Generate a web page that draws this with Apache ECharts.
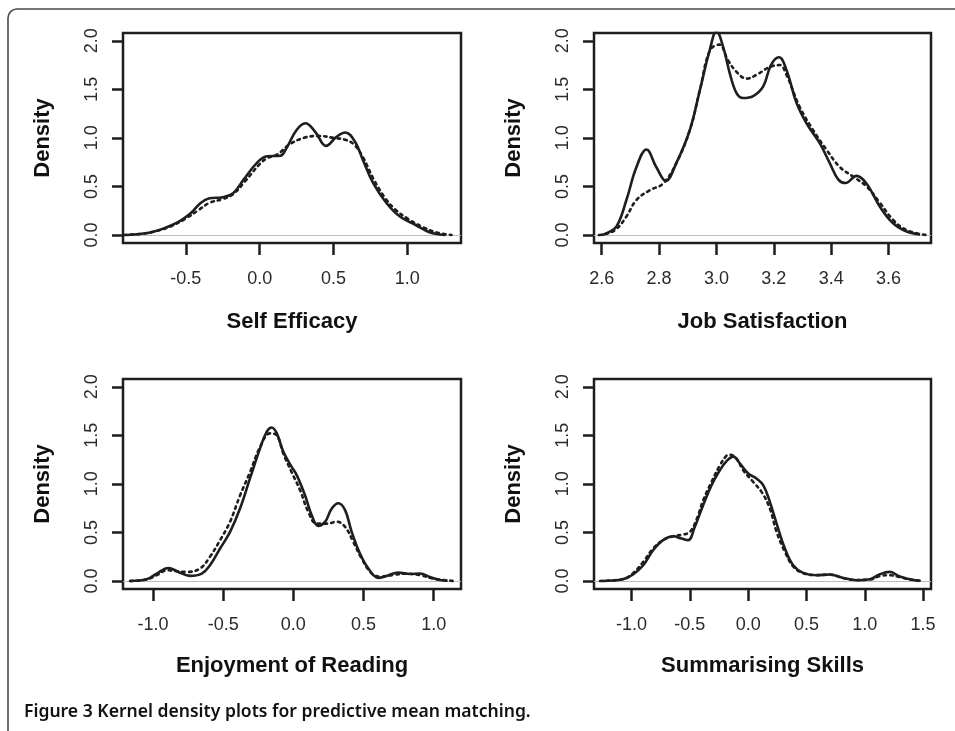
<!DOCTYPE html>
<html>
<head>
<meta charset="utf-8">
<script src="https://cdn.jsdelivr.net/npm/echarts@6/dist/echarts.min.js"></script>
<style>
  html, body { margin: 0; padding: 0; background: #fff; }
  #chart { width: 955px; height: 731px; }
</style>
</head>
<body>
<div id="chart"></div>
<script>
// Kernel density estimates: solid = observed, dotted = imputed (PMM)
const panelTitles = ['Self Efficacy', 'Job Satisfaction', 'Enjoyment of Reading', 'Summarising Skills'];
const yTicks = [0, 0.5, 1.0, 1.5, 2.0];
const xTicks1 = [-0.5, 0.0, 0.5, 1.0];
const xTicks2 = [2.6, 2.8, 3.0, 3.2, 3.4, 3.6];
const xTicks3 = [-1.0, -0.5, 0.0, 0.5, 1.0];
const xTicks4 = [-1.0, -0.5, 0.0, 0.5, 1.0, 1.5];

// Self Efficacy
const seSolidX = [-0.90, -0.72, -0.56, -0.47, -0.40, -0.34, -0.25, -0.18, -0.11, -0.02, 0.05, 0.14, 0.18, 0.25, 0.31, 0.375, 0.45, 0.52, 0.58, 0.646, 0.70, 0.77, 0.86, 0.95, 1.06, 1.15, 1.22, 1.26];
const seSolidY = [0.0, 0.034, 0.127, 0.22, 0.33, 0.378, 0.389, 0.43, 0.567, 0.74, 0.81, 0.815, 0.89, 1.08, 1.15, 1.065, 0.917, 1.01, 1.055, 0.96, 0.77, 0.53, 0.327, 0.19, 0.10, 0.028, 0.005, 0.0];
const seDottedX = [-0.92, -0.80, -0.70, -0.60, -0.50, -0.42, -0.34, -0.25, -0.18, -0.10, 0.0, 0.05, 0.12, 0.20, 0.30, 0.40, 0.50, 0.58, 0.64, 0.70, 0.77, 0.85, 0.92, 1.0, 1.1, 1.2, 1.3];
const seDottedY = [0.0, 0.012, 0.04, 0.09, 0.17, 0.25, 0.33, 0.37, 0.42, 0.55, 0.73, 0.79, 0.83, 0.93, 1.0, 1.02, 1.0, 0.98, 0.93, 0.80, 0.58, 0.38, 0.26, 0.17, 0.085, 0.025, 0.0];

// Job Satisfaction
const jsSolidX = [2.60, 2.616, 2.651, 2.686, 2.721, 2.756, 2.79, 2.823, 2.86, 2.907, 2.942, 2.977, 3.0, 3.023, 3.046, 3.07, 3.093, 3.128, 3.163, 3.19, 3.218, 3.244, 3.279, 3.314, 3.36, 3.395, 3.425, 3.45, 3.488, 3.523, 3.57, 3.616, 3.663, 3.71];
const jsSolidY = [0.0, 0.017, 0.086, 0.36, 0.70, 0.88, 0.70, 0.557, 0.74, 1.08, 1.49, 1.91, 2.10, 1.94, 1.67, 1.46, 1.41, 1.43, 1.53, 1.75, 1.83, 1.70, 1.36, 1.15, 0.945, 0.74, 0.57, 0.535, 0.608, 0.53, 0.29, 0.12, 0.035, 0.005];
const jsDottedX = [2.59, 2.62, 2.651, 2.686, 2.721, 2.767, 2.814, 2.86, 2.907, 2.942, 2.977, 3.01, 3.04, 3.07, 3.105, 3.14, 3.186, 3.221, 3.244, 3.29, 3.337, 3.384, 3.43, 3.477, 3.523, 3.57, 3.616, 3.663, 3.73];
const jsDottedY = [0.0, 0.015, 0.06, 0.19, 0.36, 0.46, 0.53, 0.74, 1.08, 1.49, 1.90, 1.96, 1.80, 1.68, 1.61, 1.65, 1.73, 1.75, 1.65, 1.32, 1.08, 0.876, 0.70, 0.60, 0.50, 0.33, 0.155, 0.05, 0.0];

// Enjoyment of Reading
const erSolidX = [-1.164, -1.045, -0.974, -0.89, -0.82, -0.736, -0.653, -0.594, -0.522, -0.451, -0.38, -0.309, -0.237, -0.19, -0.154, -0.118, -0.071, -0.012, 0.024, 0.083, 0.131, 0.178, 0.226, 0.274, 0.321, 0.369, 0.416, 0.475, 0.535, 0.606, 0.665, 0.748, 0.832, 0.903, 0.974, 1.046, 1.10];
const erSolidY = [0, 0.017, 0.076, 0.134, 0.093, 0.052, 0.076, 0.162, 0.334, 0.505, 0.746, 1.056, 1.365, 1.536, 1.58, 1.52, 1.33, 1.175, 1.09, 0.883, 0.677, 0.567, 0.608, 0.746, 0.80, 0.729, 0.505, 0.282, 0.128, 0.031, 0.052, 0.087, 0.072, 0.076, 0.041, 0.01, 0.002];
const erDottedX = [-1.164, -1.045, -0.974, -0.90, -0.83, -0.76, -0.665, -0.594, -0.522, -0.451, -0.38, -0.309, -0.237, -0.166, -0.118, -0.071, -0.012, 0.048, 0.107, 0.166, 0.238, 0.309, 0.369, 0.428, 0.487, 0.559, 0.618, 0.713, 0.808, 0.903, 0.998, 1.14];
const erDottedY = [0, 0.015, 0.06, 0.11, 0.10, 0.093, 0.128, 0.25, 0.42, 0.61, 0.88, 1.12, 1.38, 1.52, 1.50, 1.31, 1.12, 0.935, 0.71, 0.59, 0.59, 0.61, 0.557, 0.40, 0.23, 0.076, 0.045, 0.062, 0.075, 0.06, 0.024, 0.0];

// Summarising Skills
const ssSolidX = [-1.245, -1.073, -0.987, -0.90, -0.815, -0.73, -0.644, -0.572, -0.515, -0.458, -0.386, -0.314, -0.243, -0.185, -0.128, -0.071, 0.0, 0.072, 0.129, 0.186, 0.244, 0.315, 0.386, 0.472, 0.587, 0.701, 0.815, 0.93, 1.045, 1.13, 1.216, 1.30, 1.388, 1.459];
const ssSolidY = [0, 0.017, 0.066, 0.162, 0.316, 0.42, 0.46, 0.437, 0.42, 0.557, 0.78, 0.987, 1.14, 1.234, 1.28, 1.21, 1.107, 1.055, 0.987, 0.815, 0.59, 0.334, 0.162, 0.083, 0.059, 0.066, 0.031, 0.007, 0.017, 0.069, 0.093, 0.045, 0.017, 0];
const ssDottedX = [-1.27, -1.073, -0.987, -0.90, -0.815, -0.73, -0.644, -0.558, -0.50, -0.44, -0.386, -0.314, -0.243, -0.185, -0.157, -0.10, -0.043, 0.043, 0.115, 0.186, 0.244, 0.315, 0.386, 0.472, 0.587, 0.701, 0.815, 0.93, 1.045, 1.13, 1.216, 1.30, 1.388, 1.50];
const ssDottedY = [0, 0.02, 0.08, 0.196, 0.334, 0.42, 0.46, 0.478, 0.505, 0.64, 0.83, 1.02, 1.19, 1.29, 1.30, 1.26, 1.14, 1.02, 0.917, 0.746, 0.505, 0.30, 0.15, 0.08, 0.06, 0.065, 0.03, 0.01, 0.015, 0.05, 0.059, 0.04, 0.015, 0];

const zip = (xs, ys) => xs.map((x, i) => [x, ys[i]]);

// plot-region layout for the 2x2 panel grid
const panels = [
  { rect: { left: 123, top: 33, width: 338, height: 210 }, xRange: [-0.926, 1.364], ticks: xTicks1, solid: zip(seSolidX, seSolidY), dotted: zip(seDottedX, seDottedY) },
  { rect: { left: 594, top: 33, width: 337, height: 210 }, xRange: [2.573, 3.748], ticks: xTicks2, solid: zip(jsSolidX, jsSolidY), dotted: zip(jsDottedX, jsDottedY) },
  { rect: { left: 123, top: 379, width: 338, height: 210 }, xRange: [-1.214, 1.195], ticks: xTicks3, solid: zip(erSolidX, erSolidY), dotted: zip(erDottedX, erDottedY) },
  { rect: { left: 594, top: 379, width: 337, height: 210 }, xRange: [-1.322, 1.568], ticks: xTicks4, solid: zip(ssSolidX, ssSolidY), dotted: zip(ssDottedX, ssDottedY) }
];

const FONT = '"Liberation Sans", Arial, sans-serif';
const INK = '#1e1e1e';

const grid = [], xAxis = [], yAxis = [], series = [];
panels.forEach((p, i) => {
  grid.push(Object.assign({ show: true, borderColor: INK, borderWidth: 2.5, backgroundColor: 'transparent' }, p.rect));
  xAxis.push({
    type: 'value', gridIndex: i, min: p.xRange[0], max: p.xRange[1], position: 'bottom',
    splitLine: { show: false }, axisLine: { show: false, onZero: false },
    axisTick: { show: true, inside: false, length: 12, lineStyle: { color: INK, width: 2.5 }, customValues: p.ticks },
    axisLabel: { show: true, margin: 27, fontSize: 18, color: '#2a2a2a', fontFamily: FONT, customValues: p.ticks, formatter: v => v.toFixed(1) },
    name: panelTitles[i], nameLocation: 'middle', nameGap: i < 2 ? 68 : 66,
    nameTextStyle: { fontSize: 22, fontWeight: 'bold', color: '#111', fontFamily: FONT }
  });
  yAxis.push({
    type: 'value', gridIndex: i, min: -0.083, max: 2.08, position: 'left',
    splitLine: { show: false }, axisLine: { show: false, onZero: false },
    axisTick: { show: true, inside: false, length: 11, lineStyle: { color: INK, width: 2.5 }, customValues: yTicks },
    axisLabel: { show: true, rotate: 90, margin: 22, fontSize: 18, color: '#2a2a2a', fontFamily: FONT, customValues: yTicks, formatter: v => v.toFixed(1) },
    name: 'Density', nameLocation: 'middle', nameRotate: 90, nameGap: 69,
    nameTextStyle: { fontSize: 22, fontWeight: 'bold', color: '#111', fontFamily: FONT }
  });
  series.push({
    type: 'line', xAxisIndex: i, yAxisIndex: i, data: p.dotted, smooth: 0.4, symbol: 'none', clip: true, z: 3,
    lineStyle: { color: INK, width: 2.6, type: [2.6, 4.2], cap: 'round' },
    markLine: { silent: true, symbol: 'none', label: { show: false }, lineStyle: { color: '#bdbdbd', width: 1.2, type: 'solid' }, data: [{ yAxis: 0 }], z: 1 }
  });
  series.push({
    type: 'line', xAxisIndex: i, yAxisIndex: i, data: p.solid, smooth: 0.4, symbol: 'none', clip: true, z: 4,
    lineStyle: { color: INK, width: 2.6, type: 'solid' }
  });
});

const chart = echarts.init(document.getElementById('chart'), null, { renderer: 'canvas' });
chart.setOption({
  animation: false,
  backgroundColor: '#fff',
  grid, xAxis, yAxis, series,
  graphic: [
    { type: 'rect', silent: true, z: -1, shape: { x: 8, y: 9, width: 980, height: 760, r: 9 }, style: { fill: 'none', stroke: '#4a4a4a', lineWidth: 1.6 } },
    { type: 'text', silent: true, x: 24, y: 712, scaleX: 0.975, style: { text: 'Figure 3 Kernel density plots for predictive mean matching.', font: '600 18px "Noto Sans", sans-serif', fill: '#111', verticalAlign: 'middle' } }
  ]
});
</script>
</body>
</html>
